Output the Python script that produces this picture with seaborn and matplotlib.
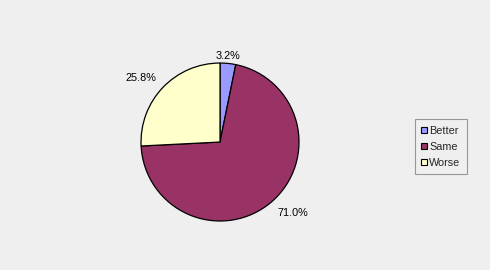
import numpy as np
import matplotlib
matplotlib.use("Agg")
import matplotlib.pyplot as plt
from matplotlib.patches import Patch
import seaborn as sns

categories = ["Better", "Same", "Worse"]
values = [3.2, 71.0, 25.8]
labels = ["3.2%", "71.0%", "25.8%"]
colors = ["#9999FF", "#993366", "#FFFFCC"]

sns.set_theme(style="white")
plt.rcParams["font.family"] = ["Liberation Sans", "DejaVu Sans"]

bg = "#EFEFEF"
fig = plt.figure(figsize=(4.9, 2.7), dpi=100, facecolor=bg)
ax = fig.add_axes([0.449 - 0.1612, 0.474 - 0.2926, 0.3224, 0.5852])
ax.set_facecolor(bg)

wedges, _ = ax.pie(values, colors=colors, startangle=90, counterclock=False,
                   wedgeprops=dict(edgecolor="black", linewidth=0.9))
ax.set_aspect("equal")
ax.set_xlim(-1, 1)
ax.set_ylim(-1, 1)

# labels just outside the wedge edge, anchored by their nearest corner
for w, lab in zip(wedges, labels):
    th = np.deg2rad((w.theta1 + w.theta2) / 2)
    c, s = np.cos(th), np.sin(th)
    d = 4 + 7 * abs(c)  # pixels
    ha = "left" if c > 0.2 else ("right" if c < -0.2 else "center")
    va = "baseline" if s > 0 else "top"
    ax.annotate(lab, xy=(c, s), xytext=(c * d * 0.72, s * d * 0.72),
                textcoords="offset points", ha=ha, va=va,
                fontsize=7.8, color="black")

handles = [Patch(facecolor=col, edgecolor="black", linewidth=0.8, label=cat)
           for cat, col in zip(categories, colors)]
leg = fig.legend(handles=handles, loc="center", bbox_to_anchor=(0.9, 0.456),
                 fontsize=7.8, frameon=True, fancybox=False, handlelength=0.55,
                 handleheight=0.55, handletextpad=0.2, labelspacing=0.55,
                 borderpad=0.6, borderaxespad=0)
leg.get_frame().set_edgecolor("#808080")
leg.get_frame().set_facecolor(bg)
leg.get_frame().set_linewidth(0.8)

fig.savefig("out.png", dpi=100, facecolor=bg)
